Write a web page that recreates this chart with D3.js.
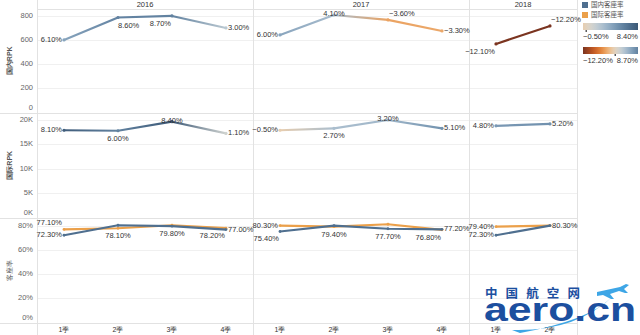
<!DOCTYPE html>
<html><head><meta charset="utf-8">
<script src="https://cdn.jsdelivr.net/npm/d3@7"></script>
<style>
html,body{margin:0;padding:0;background:#fff;}
svg{display:block;font-family:"Liberation Sans","DejaVu Sans",Arial,sans-serif;}
</style></head>
<body><svg id="c" width="640" height="335"></svg>
<script>
// ---------------- data ----------------
const years = ["2016", "2017", "2018"];
const quarterNames = [["1季","2季","3季","4季"], ["1季","2季","3季","4季"], ["1季","2季"]];
const rowTitles = ["国内RPK", "国际RPK", "客座率"];
const domRPK = [[600, 787, 800, 700], [642, 808, 767, 675], [567, 717]];
const domRPKGrowth = [[6.1, 8.6, 8.7, 3.0], [6.0, 4.1, -3.6, -3.3], [-12.1, -12.2]];
const intlRPK = [[17900, 17800, 19650, 17250], [17900, 18300, 20000, 18300], [18800, 19200]];
const intlRPKGrowth = [[8.1, 6.0, 8.4, 1.1], [-0.5, 2.7, 3.2, 5.1], [4.8, 5.2]];
const domLF = [[72.3, 80.6, 79.8, 77.0], [75.4, 80.2, 77.7, 77.2], [72.3, 80.3]];
const intlLF = [[77.1, 78.1, 80.6, 78.2], [80.3, 79.4, 81.4, 76.8], [79.4, 80.3]];
const rpkTicks1 = [0, 200, 400, 600, 800];
const rpkTicks2 = [0, 5000, 10000, 15000, 20000];
const lfTicks = [0, 20, 40, 60, 80];
const lfSeries = ["国内客座率", "国际客座率"];
const legendRanges = [[-0.5, 8.4], [-12.2, 8.7]];
// label placement codes (l,r,a,b,al,ar,bl,br)
const place1 = [["l","br","bl","r"], ["l","a","ar","r"], ["bl","ar"]];
const place2 = [["l","b","a","r"], ["l","b","a","r"], ["l","r"]];
const place3dom = [["l",null,"b","r"], ["bl",null,"b","r"], ["l","r"]];
const place3intl = [["al","b",null,"bl"], ["l","b",null,"bl"], ["l",null]];

// ---------------- setup ----------------
const svg = d3.select("#c");
const W = 640, H = 335;
const plotL = 37, plotR = 577;
const rows = [[9, 112.5], [113, 217.5], [218, 322.5]];

const allKeys = [];
years.forEach((y, i) => quarterNames[i].forEach(q => allKeys.push(y + "|" + q)));
const x = d3.scaleBand().domain(allKeys).range([plotL, plotR]).padding(0);
const xc = (yi, qi) => x(years[yi] + "|" + quarterNames[yi][qi]) + x.bandwidth() / 2;

const y1 = d3.scaleLinear().domain([0, 858]).range([rows[0][1] - 0.5, rows[0][0]]);
const y2 = d3.scaleLinear().domain([0, 21436]).range([rows[1][1], rows[1][0]]);
const y3 = d3.scaleLinear().domain([0, 86.6]).range([rows[2][1], rows[2][0]]);

const divStops = ["#7a3420", "#c9561f", "#f09a45", "#ece4d6", "#a8c0d4", "#6588a8", "#3b5876"];
const divInterp = d3.interpolateRgbBasis(divStops);
const makeColor = (maxAbs) => d3.scaleDiverging(divInterp).domain([-maxAbs, 0, maxAbs]).clamp(true);
const col1 = makeColor(d3.max(domRPKGrowth.flat(), Math.abs));
const col2 = makeColor(d3.max(intlRPKGrowth.flat(), Math.abs));
const lfColors = ["#4f6f8f", "#eba04a"];

const gridC = "#f0f0f0", sepC = "#e2e2e2", tickC = "#666", textC = "#333";

// ---------------- grid ----------------
const g = svg.append("g");
[[y1, rpkTicks1], [y2, rpkTicks2], [y3, lfTicks]].forEach(([sc, ticks]) => {
  g.selectAll(null).data(ticks.filter(t => t > 0)).join("line")
    .attr("x1", plotL).attr("x2", plotR)
    .attr("y1", d => Math.round(sc(d)) + 0.5).attr("y2", d => Math.round(sc(d)) + 0.5)
    .attr("stroke", gridC).attr("stroke-width", 1);
});
[rows[0][0], rows[0][1], rows[1][1], rows[2][1]].forEach((yy, i) => {
  g.append("line").attr("x1", i === 0 ? plotL : 0).attr("x2", plotR)
    .attr("y1", Math.round(yy) + 0.5).attr("y2", Math.round(yy) + 0.5)
    .attr("stroke", sepC);
});
const colEdges = [plotL];
let cum = 0;
years.forEach((y, i) => { cum += quarterNames[i].length; colEdges.push(x(allKeys[cum - 1]) + x.bandwidth()); });
colEdges.forEach(xx => {
  g.append("line").attr("x1", Math.round(xx) + 0.5).attr("x2", Math.round(xx) + 0.5)
    .attr("y1", 0).attr("y2", H).attr("stroke", sepC);
});

// ---------------- headers ----------------
years.forEach((yr, i) => {
  const cx = (colEdges[i] + colEdges[i + 1]) / 2;
  svg.append("text").attr("x", cx).attr("y", 5).attr("text-anchor", "middle")
    .attr("dominant-baseline", "middle").attr("font-size", 7.5).attr("fill", textC).text(yr);
});

// ---------------- axes ----------------
function axisLabels(sc, ticks, fmt) {
  ticks.forEach(t => {
    let yy = sc(t);
    if (t === 0) yy -= 4;
    svg.append("text").attr("x", 33).attr("y", yy).attr("text-anchor", "end")
      .attr("dominant-baseline", "middle").attr("font-size", 7.5).attr("fill", tickC).text(fmt(t));
  });
}
axisLabels(y1, rpkTicks1, d => d3.format("d")(d));
axisLabels(y2, rpkTicks2, d => (d / 1000) + "K");
axisLabels(y3, lfTicks, d => d + "%");
rows.forEach((r, i) => {
  const cy = (r[0] + r[1]) / 2;
  svg.append("text").attr("transform", `translate(10,${cy}) rotate(-90)`)
    .attr("text-anchor", "middle").attr("dominant-baseline", "middle")
    .attr("font-size", 7).attr("font-weight", i < 2 ? "bold" : "normal").attr("fill", "#555").text(rowTitles[i]);
});
years.forEach((yr, yi) => quarterNames[yi].forEach((q, qi) => {
  svg.append("text").attr("x", xc(yi, qi)).attr("y", 330).attr("text-anchor", "middle")
    .attr("dominant-baseline", "middle").attr("font-size", 7).attr("fill", textC).text(q);
}));

// ---------------- marks ----------------
const defs = svg.append("defs");
let gid = 0;
function gradientLine(values, growth, sc, color) {
  years.forEach((yr, yi) => {
    const pts = values[yi].map((v, qi) => [xc(yi, qi), sc(v), growth[yi][qi]]);
    for (let k = 0; k < pts.length - 1; k++) {
      const a = pts[k], b = pts[k + 1];
      const id = "gr" + (gid++);
      const lg = defs.append("linearGradient").attr("id", id).attr("gradientUnits", "userSpaceOnUse")
        .attr("x1", a[0]).attr("y1", a[1]).attr("x2", b[0]).attr("y2", b[1]);
      lg.append("stop").attr("offset", 0).attr("stop-color", color(a[2]));
      lg.append("stop").attr("offset", 1).attr("stop-color", color(b[2]));
      svg.append("line").attr("x1", a[0]).attr("y1", a[1]).attr("x2", b[0]).attr("y2", b[1])
        .attr("stroke", `url(#${id})`).attr("stroke-width", 2.2).attr("stroke-linecap", "round");
    }
    pts.forEach(p => svg.append("circle").attr("cx", p[0]).attr("cy", p[1]).attr("r", 1.6).attr("fill", color(p[2])));
  });
}
gradientLine(domRPK, domRPKGrowth, y1, col1);
gradientLine(intlRPK, intlRPKGrowth, y2, col2);

const line = d3.line();
[intlLF, domLF].forEach((series, si) => {
  const c = si === 0 ? lfColors[1] : lfColors[0];
  years.forEach((yr, yi) => {
    const pts = series[yi].map((v, qi) => [xc(yi, qi), y3(v)]);
    svg.append("path").attr("d", line(pts)).attr("fill", "none").attr("stroke", c).attr("stroke-width", 2.2);
    pts.forEach(p => svg.append("circle").attr("cx", p[0]).attr("cy", p[1]).attr("r", 1.4).attr("fill", c));
  });
});

// ---------------- labels ----------------
const fmtPct = d => d3.format(".2f")(d) + "%";
function label(px, py, txt, code) {
  if (!code) return;
  let dx = 0, dy = 0, anchor = "middle";
  switch (code) {
    case "l": dx = -2; anchor = "end"; break;
    case "r": dx = 2; anchor = "start"; break;
    case "a": dy = -1; break;
    case "b": dy = 8; break;
    case "al": dx = -2; dy = -6; anchor = "end"; break;
    case "ar": dx = 1; dy = -6; anchor = "start"; break;
    case "bl": dx = -1; dy = 8; anchor = "end"; break;
    case "br": dx = 0; dy = 8; anchor = "start"; break;
  }
  svg.append("text").attr("x", px + dx).attr("y", py + dy).attr("text-anchor", anchor)
    .attr("dominant-baseline", "middle").attr("font-size", 7.5).attr("fill", textC).text(txt);
}
years.forEach((yr, yi) => quarterNames[yi].forEach((q, qi) => {
  const px = xc(yi, qi);
  label(px, y1(domRPK[yi][qi]), fmtPct(domRPKGrowth[yi][qi]), place1[yi][qi]);
  label(px, y2(intlRPK[yi][qi]), fmtPct(intlRPKGrowth[yi][qi]), place2[yi][qi]);
  label(px, y3(domLF[yi][qi]), fmtPct(domLF[yi][qi]), place3dom[yi][qi]);
  label(px, y3(intlLF[yi][qi]), fmtPct(intlLF[yi][qi]), place3intl[yi][qi]);
}));

// ---------------- legend ----------------
const lg = svg.append("g");
lfSeries.forEach((s, i) => {
  lg.append("rect").attr("x", 582).attr("y", 2 + i * 10).attr("width", 6).attr("height", 6).attr("fill", lfColors[i]);
  lg.append("text").attr("x", 591).attr("y", 5.5 + i * 10).attr("dominant-baseline", "middle")
    .attr("font-size", 6.5).attr("fill", "#555").attr("font-family", "Noto Sans CJK SC").text(s);
});
legendRanges.forEach((rng, i) => {
  const by = 23 + i * 24;
  const bx0 = 583, bx1 = 638;
  const maxAbs = Math.max(Math.abs(rng[0]), Math.abs(rng[1]));
  const cs = makeColor(maxAbs);
  const id = "leg" + i;
  const grad = defs.append("linearGradient").attr("id", id);
  d3.range(0, 1.0001, 0.05).forEach(t => {
    grad.append("stop").attr("offset", t).attr("stop-color", cs(rng[0] + t * (rng[1] - rng[0])));
  });
  lg.append("rect").attr("x", bx0).attr("y", by).attr("width", bx1 - bx0).attr("height", 7).attr("fill", `url(#${id})`);
  const zx = bx0 + (0 - rng[0]) / (rng[1] - rng[0]) * (bx1 - bx0);
  lg.append("rect").attr("x", zx - 0.5).attr("y", by + 7).attr("width", 1.2).attr("height", 2).attr("fill", "#333");
  lg.append("text").attr("x", bx0).attr("y", by + 14).attr("dominant-baseline", "middle")
    .attr("font-size", 7.5).attr("fill", textC).text(fmtPct(rng[0]));
  lg.append("text").attr("x", bx1).attr("y", by + 14).attr("text-anchor", "end").attr("dominant-baseline", "middle")
    .attr("font-size", 7.5).attr("fill", textC).text(fmtPct(rng[1]));
});

// ---------------- watermark ----------------
const wm = svg.append("g");
wm.append("path").attr("d", "M512,330 Q575,332 612,297 Q590,320 520,333 Z").attr("fill", "#3ea6e6");
wm.append("text").attr("x", 485).attr("y", 298).attr("font-size", 12.5).attr("font-weight", "bold")
  .attr("font-family", "Noto Sans CJK SC").attr("fill", "#1c4f9f").attr("textLength", 95).text("中国航空网");
wm.append("text").attr("x", 484).attr("y", 321).attr("font-size", 33).attr("font-weight", "bold")
  .attr("fill", "#1c4f9f").attr("textLength", 152).attr("lengthAdjust", "spacingAndGlyphs").text("aero.cn");
wm.append("path").attr("d", "M597,292 L620,287 L626,284 L629,285 L624,289 L628,293 L625,293 L619,291 L610,294 L614,299 L611,299 L603,295 L597,296 Z")
  .attr("fill", "#3ea6e6");
</script></body></html>
